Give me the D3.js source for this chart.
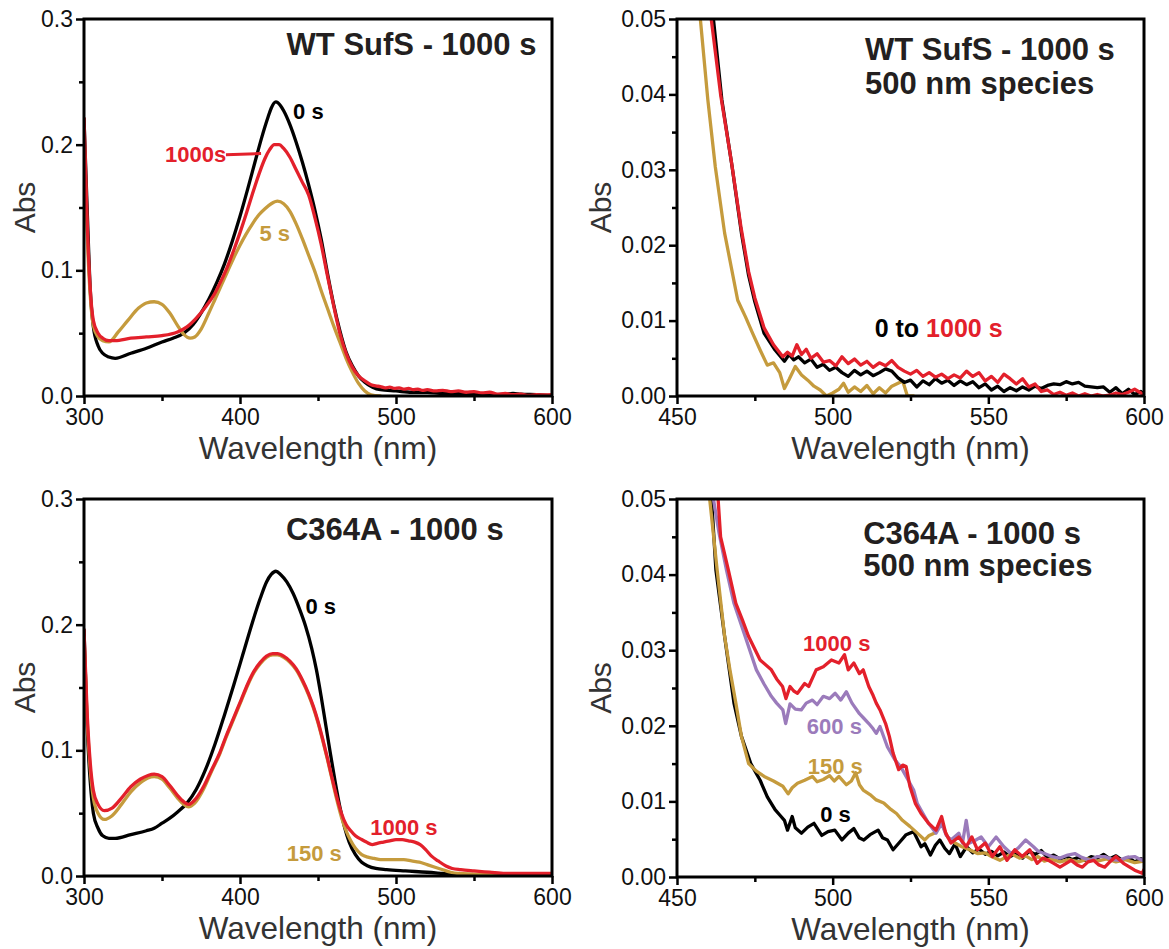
<!DOCTYPE html>
<html>
<head>
<meta charset="utf-8">
<script src="https://cdn.jsdelivr.net/npm/d3@7"></script>
<style>
  html, body { margin: 0; padding: 0; background: #fff; }
  svg { display: block; }
  text { font-family: "Liberation Sans", Arial, sans-serif; }
</style>
</head>
<body>
<svg id="chart" width="1169" height="949"></svg>
<script>
// ---------------- DATA ----------------
// Tick values
const xTicksFull = [300, 400, 500, 600];
const xMinorFull = [350, 450, 550];
const yTicksFull = [0, 0.1, 0.2, 0.3];
const yMinorFull = [0.05, 0.15, 0.25];
const xTicksZoom = [450, 500, 550, 600];
const xMinorZoom = [475, 525, 575];
const yTicksZoom = [0, 0.01, 0.02, 0.03, 0.04, 0.05];
const yMinorZoom = [0.005, 0.015, 0.025, 0.035, 0.045];

// Panel A: WT SufS full spectra [wavelength nm, Abs]
const wt0sFull = [[300,0.221],[302,0.150],[304,0.085],[306,0.055],[309,0.040],[312,0.034],[316,0.031],[320,0.030],[330,0.034],[340,0.038],[350,0.043],[357,0.046],[364,0.050],[370,0.057],[375,0.066],[380,0.077],[385,0.090],[390,0.105],[395,0.123],[400,0.143],[405,0.165],[410,0.188],[414,0.206],[418,0.222],[420,0.229],[423,0.234],[426,0.231],[428,0.227],[432,0.216],[436,0.202],[440,0.186],[444,0.168],[448,0.148],[452,0.125],[456,0.098],[460,0.073],[464,0.052],[468,0.035],[472,0.024],[476,0.016],[480,0.011],[485,0.007],[490,0.005],[500,0.004],[510,0.003],[520,0.003],[530,0.002],[540,0.002],[550,0.0015],[560,0.001],[570,0.0015],[575,0.002],[580,0.0015],[590,0.001],[600,0.0003]];
const wt1000sFull = [[300,0.221],[302,0.140],[304,0.085],[306,0.060],[309,0.050],[312,0.046],[316,0.044],[320,0.044],[330,0.046],[340,0.047],[350,0.048],[360,0.051],[366,0.055],[372,0.062],[378,0.071],[384,0.082],[388,0.092],[392,0.103],[396,0.116],[400,0.130],[404,0.145],[408,0.161],[412,0.176],[416,0.189],[419,0.196],[422,0.200],[425,0.200],[428,0.197],[432,0.190],[436,0.180],[440,0.170],[444,0.160],[448,0.142],[452,0.121],[456,0.096],[460,0.072],[464,0.050],[468,0.034],[472,0.023],[476,0.016],[480,0.012],[484,0.009],[487,0.008],[490,0.0075],[493,0.0065],[496,0.007],[499,0.006],[502,0.0065],[505,0.0055],[508,0.006],[511,0.005],[514,0.0055],[517,0.0045],[520,0.005],[525,0.004],[530,0.0045],[535,0.0035],[540,0.004],[545,0.003],[550,0.0035],[555,0.0025],[560,0.003],[565,0.0015],[570,0.002],[575,0.001],[580,0.0015],[585,0.0005],[590,0.001],[595,0.0008],[600,0.001]];
const wt5sFull = [[300,0.210],[302,0.130],[304,0.080],[306,0.056],[309,0.047],[312,0.044],[316,0.043],[322,0.051],[328,0.060],[335,0.070],[340,0.074],[345,0.075],[350,0.073],[355,0.066],[360,0.056],[364,0.049],[368,0.046],[371,0.047],[375,0.053],[380,0.066],[384,0.077],[388,0.088],[392,0.099],[396,0.110],[400,0.120],[404,0.129],[408,0.137],[412,0.144],[416,0.149],[420,0.153],[424,0.155],[428,0.153],[432,0.147],[436,0.137],[440,0.125],[444,0.112],[448,0.099],[452,0.084],[456,0.070],[460,0.056],[464,0.043],[468,0.030],[472,0.019],[476,0.010],[480,0.004],[484,0.001],[490,0.000]];

// Panel B: WT SufS 500 nm region
const wt0sZoom = [[458,0.060],[461.7,0.050],[464.4,0.0393],[467.7,0.0304],[470.7,0.0216],[473,0.016],[475,0.0125],[478,0.0083],[481.5,0.0061],[484.5,0.0046],[486,0.0055],[487.5,0.0048],[489,0.0052],[491,0.0044],[493,0.0049],[495,0.0038],[497,0.0042],[499,0.0034],[501,0.0038],[503,0.0031],[505,0.0026],[507,0.0034],[509,0.0028],[511,0.0033],[513,0.0027],[515,0.0031],[517,0.0036],[519,0.0033],[521,0.0024],[523,0.0018],[525,0.0021],[527,0.0012],[529,0.0020],[531,0.0015],[533,0.0023],[535,0.0017],[537,0.0021],[539,0.0014],[541,0.0020],[543,0.0015],[545,0.0019],[547,0.0011],[549,0.0016],[551,0.0008],[553,0.0013],[555,0.0006],[557,0.0011],[559,0.0007],[561,0.0012],[563,0.0008],[565,0.0013],[567,0.0010],[569,0.0014],[571,0.0016],[573,0.0015],[575,0.0019],[577,0.0016],[579,0.0018],[581,0.0013],[583,0.0012],[585,0.0011],[587,0.0012],[589,0.0005],[591,0.0011],[593,0.0003],[595,0.0009],[597,0.0002],[599,0.0006],[600,0.0002]];
const wt1000sZoom = [[458,0.062],[461,0.050],[464,0.040],[467.5,0.031],[470.5,0.0225],[473,0.0165],[475,0.013],[478,0.009],[481,0.0068],[484,0.0052],[485.5,0.0058],[487,0.0053],[488.5,0.0068],[490,0.0055],[491.5,0.0062],[493,0.0050],[495,0.0056],[497,0.0045],[499,0.0047],[501,0.0040],[503,0.0052],[505,0.0043],[507,0.0049],[509,0.0041],[511,0.0046],[513,0.0038],[515,0.0044],[517,0.0040],[519,0.0047],[521,0.0038],[523,0.0033],[525,0.0029],[527,0.0034],[529,0.0026],[531,0.0031],[533,0.0025],[535,0.0029],[537,0.0023],[539,0.0028],[541,0.0024],[543,0.0033],[545,0.0026],[547,0.0031],[549,0.0020],[551,0.0026],[553,0.0018],[555,0.0029],[557,0.0023],[559,0.0016],[561,0.0023],[563,0.0012],[565,0.0016],[567,0.0006],[569,0.0008],[571,0.0002],[573,0.0005],[575,0.0001],[577,0.0004],[579,0.0000],[581,0.0003],[583,0.0000],[585,0.0002],[587,0.0000],[589,0.0001],[591,0.0004],[593,0.0002],[595,0.0005],[597,0.0009],[599,0.0004],[600,0.0001]];
const wt5sZoom = [[456,0.060],[457.5,0.050],[459.9,0.0393],[462.3,0.0304],[465.3,0.0216],[469.5,0.0127],[472,0.0105],[474.3,0.0083],[476.7,0.0061],[479,0.0041],[481,0.0044],[483,0.0031],[484.5,0.0010],[486,0.0022],[488,0.0039],[490,0.0028],[492,0.0021],[494,0.0013],[496,0.0008],[498,0.0000],[500,0.0004],[502,0.0009],[503.5,0.0017],[505,0.0005],[507,0.0012],[509,0.0006],[511,0.0014],[513,0.0003],[515,0.0011],[517,0.0004],[519,0.0013],[521,0.0017],[522.5,0.0020],[524,0.0000],[526,0.0000]];

// Panel C: C364A full spectra
const c0sFull = [[300,0.196],[302,0.120],[304,0.075],[306,0.050],[309,0.038],[312,0.032],[316,0.030],[320,0.030],[330,0.033],[340,0.036],[345,0.038],[350,0.042],[355,0.046],[360,0.051],[366,0.058],[372,0.069],[378,0.085],[384,0.105],[390,0.128],[396,0.152],[402,0.177],[408,0.202],[413,0.221],[417,0.234],[420,0.240],[423,0.2425],[426,0.240],[430,0.234],[434,0.225],[438,0.213],[442,0.199],[446,0.181],[449,0.164],[452,0.143],[455,0.120],[458,0.097],[461,0.075],[464,0.055],[467,0.039],[470,0.027],[474,0.017],[478,0.011],[482,0.008],[487,0.006],[494,0.005],[506,0.004],[520,0.003],[530,0.002],[540,0.001],[560,0.0005],[600,0.0005]];
const c1000sFull = [[300,0.196],[302,0.130],[304,0.090],[306,0.068],[309,0.057],[313,0.052],[318,0.054],[324,0.062],[330,0.071],[336,0.077],[341,0.080],[345,0.081],[350,0.079],[355,0.072],[360,0.064],[364,0.059],[367,0.057],[372,0.062],[377,0.072],[382,0.085],[387,0.098],[391,0.111],[396,0.126],[401,0.141],[405,0.153],[409,0.163],[413,0.170],[417,0.175],[421,0.177],[424,0.177],[428,0.175],[432,0.171],[436,0.165],[440,0.156],[444,0.145],[447,0.135],[450,0.123],[453,0.109],[456,0.094],[459,0.078],[462,0.063],[465,0.050],[468,0.041],[471,0.036],[474,0.032],[478,0.029],[481,0.027],[484.7,0.025],[488,0.026],[492,0.027],[496,0.028],[500,0.029],[504,0.029],[508,0.028],[512,0.027],[515.5,0.025],[519,0.021],[522.6,0.016],[527,0.012],[532,0.008],[536,0.006],[541.5,0.005],[550,0.004],[560,0.003],[570,0.002],[580,0.002],[590,0.002],[600,0.002]];
const c150sFull = [[300,0.190],[302,0.125],[304,0.085],[306,0.062],[309,0.050],[313,0.045],[318,0.048],[324,0.057],[330,0.067],[336,0.074],[341,0.078],[345,0.079],[350,0.077],[355,0.070],[360,0.062],[364,0.057],[367,0.055],[371,0.058],[377,0.070],[382,0.084],[387,0.097],[391,0.110],[396,0.125],[401,0.140],[405,0.152],[409,0.162],[413,0.169],[417,0.174],[421,0.176],[424,0.176],[428,0.174],[432,0.170],[436,0.164],[440,0.155],[444,0.144],[447,0.134],[450,0.122],[453,0.108],[456,0.093],[459,0.077],[462,0.061],[465,0.047],[468,0.036],[471,0.028],[474,0.022],[478,0.017],[482,0.015],[486,0.014],[490,0.013],[495,0.013],[500,0.013],[505,0.013],[510,0.012],[515,0.011],[520,0.009],[525,0.007],[530,0.005],[535,0.003],[540,0.002],[550,0.0015],[560,0.001],[580,0.001],[600,0.001]];

// Panel D: C364A 500 nm region
const c0sZoom = [[459,0.060],[461.1,0.050],[462.5,0.0406],[465.3,0.0318],[468.3,0.023],[470.7,0.0186],[473.7,0.015],[476.7,0.0128],[479,0.0106],[481.5,0.0089],[483,0.0082],[484.5,0.0075],[485.5,0.0062],[487,0.0080],[488,0.0065],[490,0.0058],[492,0.0066],[494,0.0071],[496.5,0.0055],[498.5,0.0060],[500.7,0.0062],[503,0.0049],[505,0.0058],[506.8,0.0064],[508.5,0.0052],[510,0.0049],[512,0.0056],[514.6,0.0062],[516,0.0052],[517.6,0.0049],[519.4,0.0036],[521.5,0.0046],[523.6,0.0056],[526,0.0060],[528.4,0.0040],[529.6,0.0044],[531.4,0.0029],[533,0.0042],[534.4,0.0049],[536,0.0038],[537.5,0.0031],[539.3,0.0044],[541,0.0027],[543,0.0040],[545,0.0032],[547,0.0037],[549,0.0030],[551,0.0034],[553,0.0028],[555,0.0033],[557,0.0027],[559,0.0031],[561,0.0025],[563,0.0034],[565,0.0030],[567,0.0035],[569,0.0026],[571,0.0029],[573,0.0024],[575,0.0027],[577,0.0023],[579,0.0026],[581,0.0022],[583,0.0027],[585,0.0025],[587,0.0030],[589,0.0024],[591,0.0028],[593,0.0022],[595,0.0026],[597,0.0020],[599,0.0024],[600,0.0022]];
const c150sZoom = [[458,0.062],[460.5,0.050],[462.9,0.0406],[465.3,0.0318],[467,0.0274],[468.9,0.023],[470.7,0.0186],[473,0.015],[475.5,0.0140],[478,0.0133],[481,0.0127],[484,0.0120],[485.7,0.0110],[487,0.0118],[488.7,0.0124],[491,0.0128],[493.5,0.0133],[495,0.0126],[497,0.0129],[499,0.0134],[500.5,0.0127],[502,0.0133],[504.4,0.0122],[506,0.0127],[507.4,0.0138],[508.6,0.0122],[509.8,0.0115],[512,0.0109],[514,0.0102],[516.4,0.0098],[518.8,0.0089],[520.5,0.0084],[522.4,0.0075],[524.8,0.0067],[527.2,0.0058],[529.6,0.0049],[531,0.0055],[532.6,0.0058],[535,0.0071],[536.9,0.0053],[539.3,0.0045],[541.5,0.0040],[544,0.0036],[546.5,0.0031],[549,0.0032],[551,0.0027],[553.7,0.0022],[555.5,0.0026],[557.3,0.0031],[560,0.0025],[562,0.0028],[564,0.0023],[566,0.0027],[568,0.0021],[570,0.0024],[573,0.0020],[576,0.0023],[579,0.0020],[582,0.0024],[585,0.0021],[588,0.0024],[591,0.0020],[594,0.0023],[597,0.0019],[600,0.0021]];
const c600sZoom = [[459,0.062],[461.7,0.050],[463.5,0.0455],[465.9,0.0406],[468.3,0.0362],[471.9,0.0318],[475.5,0.0274],[478,0.0255],[480.3,0.0239],[482,0.0230],[484,0.0221],[484.9,0.0203],[486.3,0.0229],[488,0.0222],[489.9,0.0221],[491.5,0.0230],[493.5,0.0234],[495,0.0228],[497,0.0239],[499,0.0236],[500.8,0.0243],[502.6,0.0234],[504.4,0.0245],[506.2,0.0230],[508.6,0.0216],[510,0.0210],[511.6,0.0203],[513,0.0196],[514,0.0190],[515.2,0.0199],[517.6,0.0172],[520,0.0155],[522,0.0145],[523.6,0.0133],[526,0.0115],[527.2,0.0097],[529,0.0084],[530.8,0.0071],[533.2,0.0058],[535,0.0071],[536.5,0.0055],[538,0.0049],[540.5,0.0058],[541.7,0.0045],[542.9,0.0075],[544,0.0045],[546,0.0049],[547.7,0.0053],[550,0.0040],[552.5,0.0053],[555,0.0040],[557.3,0.0031],[559.5,0.0038],[562,0.0049],[564.5,0.0040],[566,0.0034],[568,0.0031],[570.5,0.0027],[573,0.0025],[575.5,0.0029],[577.8,0.0031],[580,0.0026],[582.6,0.0022],[585,0.0027],[587.4,0.0027],[590,0.0023],[592,0.0022],[594.5,0.0026],[597,0.0027],[599.4,0.0022],[600,0.0025]];
const c1000sZoom = [[462,0.058],[463.2,0.050],[464,0.045],[466.5,0.0406],[468.9,0.0362],[471,0.0340],[473,0.0318],[476.7,0.0287],[480.3,0.0274],[482,0.0262],[483.9,0.0252],[485,0.0236],[486.3,0.0252],[487.5,0.0246],[488.7,0.0243],[491,0.0256],[492.3,0.0252],[494.7,0.0274],[497,0.0278],[499.6,0.0287],[502,0.0283],[503.8,0.0294],[505,0.0274],[506.8,0.0283],[508.6,0.0269],[509.8,0.0274],[511.6,0.0252],[513,0.0240],[514,0.0230],[515.2,0.0221],[517,0.0203],[518.2,0.0186],[519.4,0.0164],[521.2,0.0142],[522.5,0.0148],[523.6,0.0146],[524.8,0.0120],[526.6,0.0097],[528.4,0.0084],[530.8,0.0071],[533.2,0.0062],[535,0.0080],[536.3,0.0058],[538,0.0045],[540.5,0.0053],[542.9,0.0040],[544.7,0.0053],[546.5,0.0036],[549,0.0045],[551.3,0.0027],[553.7,0.0040],[556,0.0022],[558.5,0.0036],[560.9,0.0027],[563.3,0.0036],[565.7,0.0018],[567.5,0.0025],[569.3,0.0022],[571,0.0018],[573,0.0013],[575,0.0018],[576.6,0.0022],[578.5,0.0016],[580.2,0.0013],[582,0.0020],[583.8,0.0022],[585.5,0.0016],[587.4,0.0013],[589,0.0020],[591,0.0027],[593.4,0.0018],[595,0.0014],[597,0.0009],[599.4,0.0005],[600,0.0010]];

// ---------------- STYLE / LAYOUT ----------------
const COL = { black: "#000000", red: "#e3202b", gold: "#c59b3d", purple: "#9b7bbb", text: "#231f20", title: "#333333" };

const svg = d3.select("#chart");

const panels = [
  { id: "a", box: [84, 552, 19, 396], xd: [300, 600], yd: [0, 0.3], xt: xTicksFull, xm: xMinorFull, yt: yTicksFull, ym: yMinorFull, yf: ".1f", smooth: true, absX: 35,
    series: [[wt0sFull, COL.black], [wt5sFull, COL.gold], [wt1000sFull, COL.red]] },
  { id: "b", box: [677, 1144, 19, 396], xd: [450, 600], yd: [0, 0.05], xt: xTicksZoom, xm: xMinorZoom, yt: yTicksZoom, ym: yMinorZoom, yf: ".2f", smooth: false, absX: 611,
    series: [[wt5sZoom, COL.gold], [wt0sZoom, COL.black], [wt1000sZoom, COL.red]] },
  { id: "c", box: [84, 552, 499, 876], xd: [300, 600], yd: [0, 0.3], xt: xTicksFull, xm: xMinorFull, yt: yTicksFull, ym: yMinorFull, yf: ".1f", smooth: true, absX: 35,
    series: [[c0sFull, COL.black], [c150sFull, COL.gold], [c1000sFull, COL.red]] },
  { id: "d", box: [677, 1144, 499, 877], xd: [450, 600], yd: [0, 0.05], xt: xTicksZoom, xm: xMinorZoom, yt: yTicksZoom, ym: yMinorZoom, yf: ".2f", smooth: false, absX: 611,
    series: [[c0sZoom, COL.black], [c150sZoom, COL.gold], [c600sZoom, COL.purple], [c1000sZoom, COL.red]] }
];

const defs = svg.append("defs");
const scales = {};

panels.forEach(p => {
  const [L, R, T, B] = p.box;
  const x = d3.scaleLinear().domain(p.xd).range([L, R]);
  const y = d3.scaleLinear().domain(p.yd).range([B, T]);
  scales[p.id] = { x, y };

  defs.append("clipPath").attr("id", "clip-" + p.id)
    .append("rect").attr("x", L).attr("y", T).attr("width", R - L).attr("height", B - T);

  const g = svg.append("g");

  // lines
  const line = d3.line().x(d => x(d[0])).y(d => y(d[1]))
    .curve(p.smooth ? d3.curveMonotoneX : d3.curveLinear);
  const lg = g.append("g").attr("clip-path", `url(#clip-${p.id})`);
  p.series.forEach(([data, c]) => {
    lg.append("path").datum(data).attr("d", line)
      .attr("fill", "none").attr("stroke", c).attr("stroke-width", 3.3)
      .attr("stroke-linejoin", "round").attr("stroke-linecap", "round");
  });

  // axes
  const fontTick = "23px";
  const xAx = g.append("g").attr("transform", `translate(0,${B})`)
    .call(d3.axisBottom(x).tickValues(p.xt).tickSize(8).tickPadding(5).tickFormat(d3.format("d")));
  const xMin = g.append("g").attr("transform", `translate(0,${B})`)
    .call(d3.axisBottom(x).tickValues(p.xm).tickSize(5).tickFormat(""));
  const yAx = g.append("g").attr("transform", `translate(${L},0)`)
    .call(d3.axisLeft(y).tickValues(p.yt).tickSize(8).tickPadding(3).tickFormat(d3.format(p.yf)));
  const yMin = g.append("g").attr("transform", `translate(${L},0)`)
    .call(d3.axisLeft(y).tickValues(p.ym).tickSize(5).tickFormat(""));
  [xAx, xMin, yAx, yMin].forEach(a => {
    a.select(".domain").remove();
    a.selectAll(".tick line").attr("stroke", "#000").attr("stroke-width", 2.5);
    a.selectAll(".tick text").attr("font-size", fontTick).attr("fill", "#111")
      .attr("font-family", "Liberation Sans, Arial, sans-serif");
  });

  // frame
  g.append("rect").attr("x", L).attr("y", T).attr("width", R - L).attr("height", B - T)
    .attr("fill", "none").attr("stroke", "#000").attr("stroke-width", 3);

  // axis titles
  g.append("text").attr("x", (L + R) / 2).attr("y", B + 63)
    .attr("text-anchor", "middle").attr("font-size", "31.5px").attr("fill", COL.title)
    .text("Wavelength (nm)");
  g.append("text").attr("transform", `translate(${p.absX},${(T + B) / 2}) rotate(-90)`)
    .attr("text-anchor", "middle").attr("font-size", "30px").attr("fill", COL.title)
    .text("Abs");
});

// ---------------- ANNOTATIONS (placed in data coordinates) ----------------
function label(pid, wx, v, txt, color, opts = {}) {
  const { x, y } = scales[pid];
  return svg.append("text")
    .attr("x", x(wx)).attr("y", y(v))
    .attr("text-anchor", opts.anchor || "start")
    .attr("dominant-baseline", opts.baseline || "central")
    .attr("font-size", opts.size || "22px").attr("font-weight", "bold")
    .attr("fill", color).text(txt);
}

// Panel A
label("a", 590, 0.2714, "WT SufS - 1000 s", COL.text, { anchor: "end", baseline: "alphabetic", size: "31px" });
label("a", 434, 0.226, "0 s", COL.black);
label("a", 352, 0.192, "1000s", COL.red);
label("a", 412.5, 0.129, "5 s", COL.gold);
svg.append("line")
  .attr("x1", scales.a.x(391)).attr("y1", scales.a.y(0.192))
  .attr("x2", scales.a.x(413.5)).attr("y2", scales.a.y(0.193))
  .attr("stroke", COL.red).attr("stroke-width", 3);

// Panel B
label("b", 510.4, 0.0446, "WT SufS - 1000 s", COL.text, { baseline: "alphabetic", size: "31px" });
label("b", 510.4, 0.0401, "500 nm species", COL.text, { baseline: "alphabetic", size: "31px" });
const tb = label("b", 513.5, 0.009, "", COL.black, { size: "25px" });
tb.append("tspan").attr("fill", COL.black).text("0 to ");
tb.append("tspan").attr("fill", COL.red).text("1000 s");

// Panel C
label("c", 569, 0.2677, "C364A - 1000 s", COL.text, { anchor: "end", baseline: "alphabetic", size: "31px" });
label("c", 442, 0.2148, "0 s", COL.black);
label("c", 483.5, 0.0389, "1000 s", COL.red);
label("c", 430, 0.0177, "150 s", COL.gold);

// Panel D
label("d", 509.8, 0.0441, "C364A - 1000 s", COL.text, { baseline: "alphabetic", size: "31px" });
label("d", 509.8, 0.0398, "500 nm species", COL.text, { baseline: "alphabetic", size: "31px" });
label("d", 490.5, 0.03095, "1000 s", COL.red);
label("d", 491.7, 0.0199, "600 s", COL.purple);
label("d", 492, 0.01464, "150 s", COL.gold);
label("d", 496, 0.00824, "0 s", COL.black);
</script>
</body>
</html>
